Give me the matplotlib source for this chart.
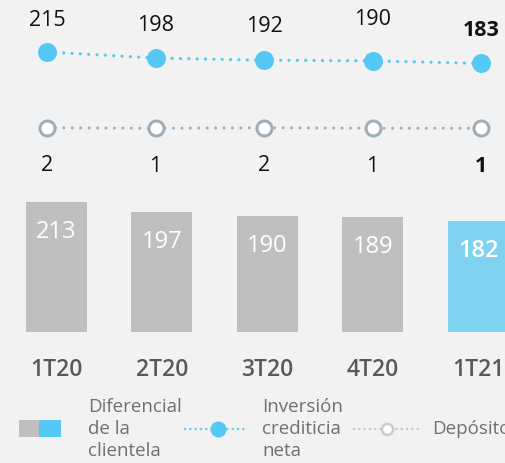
import matplotlib
matplotlib.use("Agg")
import matplotlib.pyplot as plt
from matplotlib.patches import Rectangle
from matplotlib.lines import Line2D

plt.rcParams['font.family'] = ['Open Sans', 'DejaVu Sans']

# ---- data ----
categories = ["1T20", "2T20", "3T20", "4T20", "1T21"]
diferencial = [213, 197, 190, 189, 182]
inversion = [215, 198, 192, 190, 183]
depositos = [2, 1, 2, 1, 1]
legend_labels = ["Diferencial\nde la\nclientela", "Inversión\ncrediticia\nneta", "Depósitos"]

# ---- style ----
W, H, DPI = 505, 463, 100
BG = "#f2f2f2"
GRAY_BAR = "#bfbfbf"
BLUE_BAR = "#7fd3f1"
BLUE = "#56c8f5"
DEP = "#9eadb8"
inv_label_dy = [32, 33, 34, 41, 33]   # px above point
PT = 72.0 / DPI

fig = plt.figure(figsize=(W / DPI, H / DPI), dpi=DPI, facecolor=BG)

# bars axes
bar_bottom_px = 463 - 331.7
axb = fig.add_axes([0, bar_bottom_px / H, 1, 1 - bar_bottom_px / H])
axb.set_facecolor("none")
pitch = 105.4
x0 = 56.5
axb.set_xlim(-x0 / pitch, (W - x0) / pitch)
axb.set_ylim(0, (H - bar_bottom_px) / 0.608)
xs = list(range(len(categories)))
colors = [GRAY_BAR] * (len(categories) - 1) + [BLUE_BAR]
axb.bar(xs, diferencial, width=61 / pitch, color=colors)
for i, v in enumerate(diferencial):
    last = i == len(diferencial) - 1
    axb.annotate(str(v), (i, v), xytext=(0, -30 * PT), textcoords="offset points",
                 ha="center", va="center", color="white", fontsize=17,
                 fontweight="semibold" if last else "normal")
axb.set_xticks(xs)
axb.set_xticklabels(categories, fontsize=16.5, fontweight=600, color="#595959")
axb.tick_params(axis="x", length=0, pad=19)
axb.set_yticks([])
for s in axb.spines.values():
    s.set_visible(False)

# lines axes
axl = fig.add_axes([0, 0, 1, 1])
axl.set_facecolor("none")
lp = 108.5
lx0 = 47
axl.set_xlim(-lx0 / lp, (W - lx0) / lp)
k = 0.356
ytop = 52
axl.set_ylim(215 - (H - ytop) / k, 215 + ytop / k)
axl.axis("off")
axl.plot(xs, inversion, color=BLUE, lw=3.2 * PT, linestyle=(0, (0.01, 2.6)),
         dash_capstyle="round", marker="o", ms=19 * PT, mfc=BLUE, mec=BLUE, mew=0)
axl.plot(xs, depositos, color=DEP, lw=3.0 * PT, linestyle=(0, (0.01, 2.8)),
         dash_capstyle="round", marker="o", ms=15 * PT, mfc="white", mec=DEP, mew=3 * PT)
for i, v in enumerate(inversion):
    last = i == len(inversion) - 1
    axl.annotate(str(v), (i, v), xytext=(0, inv_label_dy[i] * PT), textcoords="offset points",
                 ha="center", va="center", color="#111111", fontsize=15.5,
                 fontweight="bold" if last else "normal")
for i, v in enumerate(depositos):
    last = i == len(depositos) - 1
    axl.annotate(str(v), (i, v), xytext=(0, -38 * PT), textcoords="offset points",
                 ha="center", va="center", color="#111111", fontsize=15.5,
                 fontweight="bold" if last else "normal")

# legend (manual, in pixel coordinates)
def fx(px):
    return px / W

def fy(py):
    return 1 - py / H

ly = 429
fig.add_artist(Rectangle((fx(19), fy(437)), fx(20), 17 / H, transform=fig.transFigure,
                         color=GRAY_BAR, lw=0))
fig.add_artist(Rectangle((fx(39), fy(437)), fx(22), 17 / H, transform=fig.transFigure,
                         color=BLUE, lw=0))
fig.text(fx(88), fy(ly), legend_labels[0], ha="left", va="center", fontsize=13.5,
         color="#707070", linespacing=1.25)
fig.add_artist(Line2D([fx(185), fx(248)], [fy(ly), fy(ly)], transform=fig.transFigure,
                      color=BLUE, lw=2.4 * PT, linestyle=(0, (0.01, 2.2)), dash_capstyle="round"))
fig.add_artist(Line2D([fx(218)], [fy(ly)], transform=fig.transFigure, marker="o",
                      ms=16 * PT, mfc=BLUE, mec=BLUE, mew=0, linestyle="none"))
fig.text(fx(262), fy(ly), legend_labels[1], ha="left", va="center", fontsize=13.5,
         color="#707070", linespacing=1.25)
fig.add_artist(Line2D([fx(354), fx(418)], [fy(ly), fy(ly)], transform=fig.transFigure,
                      color="#b9c5cc", lw=2.4 * PT, linestyle=(0, (0.01, 2.2)), dash_capstyle="round"))
fig.add_artist(Line2D([fx(387)], [fy(ly)], transform=fig.transFigure, marker="o",
                      ms=11 * PT, mfc="white", mec="#c4cfd5", mew=2.5 * PT, linestyle="none"))
fig.text(fx(432), fy(ly), legend_labels[2], ha="left", va="center", fontsize=13.5,
         color="#707070")

fig.savefig("out.png", dpi=DPI, facecolor=BG)
